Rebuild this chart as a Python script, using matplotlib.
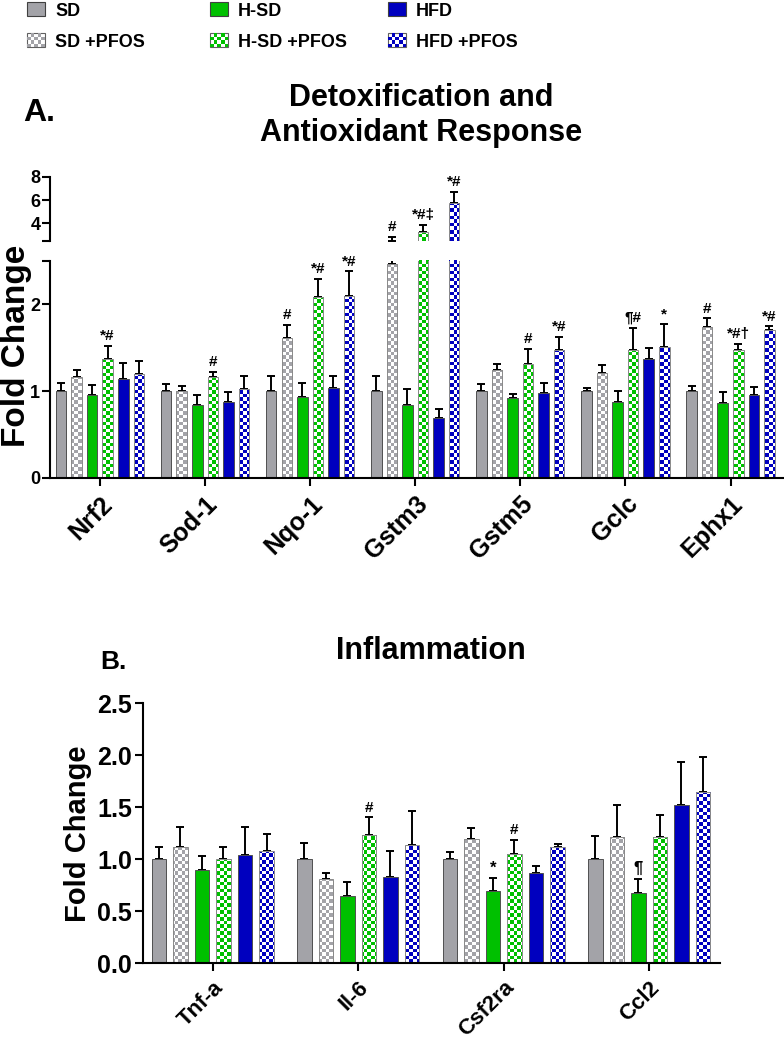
import numpy as np
import matplotlib
matplotlib.use('Agg')
import matplotlib.pyplot as plt
from matplotlib.patches import Rectangle, Patch
from matplotlib.legend_handler import HandlerBase
from matplotlib.colors import to_rgba

plt.rcParams['font.family'] = ['Liberation Sans', 'DejaVu Sans']
plt.rcParams['font.weight'] = 'bold'
plt.rcParams['axes.labelweight'] = 'bold'
plt.rcParams['axes.linewidth'] = 1.5

groups = ['SD', 'SD +PFOS', 'H-SD', 'H-SD +PFOS', 'HFD', 'HFD +PFOS']
colors = ['#A3A3A8', '#A3A3A8', '#00C000', '#00C000', '#0000BF', '#0000BF']
checkered = [False, True, False, True, False, True]

# A. Detoxification and antioxidant response
genes_a = ['Nrf2', 'Sod-1', 'Nqo-1', 'Gstm3', 'Gstm5', 'Gclc', 'Ephx1']
sd_a = [1.0, 1.0, 1.0, 1.0, 1.0, 1.0, 1.0]
sd_pfos_a = [1.165, 1.0, 1.61, 2.47, 1.246, 1.21, 1.742]
hsd_a = [0.96, 0.84, 0.935, 0.84, 0.923, 0.877, 0.858]
hsd_pfos_a = [1.37, 1.16, 2.08, 3.25, 1.315, 1.473, 1.473]
hfd_a = [1.14, 0.877, 1.035, 0.685, 0.973, 1.373, 0.96]
hfd_pfos_a = [1.2, 1.02, 2.10, 5.78, 1.473, 1.508, 1.704]

sd_a_err = [0.09, 0.08, 0.18, 0.18, 0.085, 0.04, 0.06]
sd_pfos_a_err = [0.075, 0.065, 0.15, 0.40, 0.07, 0.086, 0.096]
hsd_a_err = [0.115, 0.11, 0.155, 0.18, 0.042, 0.123, 0.134]
hsd_pfos_a_err = [0.15, 0.06, 0.21, 0.62, 0.175, 0.257, 0.067]
hfd_a_err = [0.18, 0.108, 0.135, 0.105, 0.117, 0.127, 0.086]
hfd_pfos_a_err = [0.15, 0.16, 0.28, 0.94, 0.154, 0.262, 0.042]

sig_sd_pfos_a = ['', '', '#', '#', '', '', '#']
sig_hsd_pfos_a = ['*#', '#', '*#', '*#\u2021', '#', '\u00b6#', '*#\u2020']
sig_hfd_pfos_a = ['', '', '*#', '*#', '*#', '*', '*#']

# B. Inflammation
genes_b = ['Tnf-a', 'Il-6', 'Csf2ra', 'Ccl2']
sd_b = [1.0, 1.0, 1.0, 1.0]
sd_pfos_b = [1.12, 0.81, 1.2, 1.215]
hsd_b = [0.90, 0.647, 0.70, 0.673]
hsd_pfos_b = [1.006, 1.237, 1.048, 1.215]
hfd_b = [1.04, 0.833, 0.865, 1.52]
hfd_pfos_b = [1.077, 1.135, 1.122, 1.65]

sd_b_err = [0.12, 0.16, 0.075, 0.22]
sd_pfos_b_err = [0.19, 0.06, 0.10, 0.305]
hsd_b_err = [0.13, 0.135, 0.117, 0.137]
hsd_pfos_b_err = [0.114, 0.166, 0.142, 0.215]
hfd_b_err = [0.27, 0.244, 0.068, 0.42]
hfd_pfos_b_err = [0.167, 0.333, 0.022, 0.33]

sig_hsd_b = ['', '', '*', '\u00b6']
sig_hsd_pfos_b = ['', '#', '#', '']

PITCH = 0.148
WIDTH = 0.1


def checker_image(ax, color, sq=3.5):
    fig = ax.figure
    bb = ax.get_position()
    w = bb.width * fig.get_figwidth() * fig.dpi
    h = bb.height * fig.get_figheight() * fig.dpi
    nx, ny = int(round(w / sq)), int(round(h / sq))
    grid = (np.add.outer(np.arange(ny), np.arange(nx)) % 2).astype(bool)
    rgba = np.ones((ny, nx, 4))
    rgba[grid] = to_rgba(color)
    return rgba


def draw_bars(ax, means, errs, ylow=0.0):
    n = len(means[0])
    x = np.arange(n)
    for j in range(6):
        pos = x + (j - 2.5) * PITCH
        if checkered[j]:
            bars = ax.bar(pos, means[j], WIDTH, color='white', linewidth=0, zorder=2)
            img = checker_image(ax, colors[j])
            for b in bars:
                im = ax.imshow(img, extent=(0, 1, 0, 1), transform=ax.transAxes,
                               interpolation='nearest', aspect='auto', zorder=2.1)
                im.set_clip_path(b)
            ax.bar(pos, means[j], WIDTH, fill=False, edgecolor='#8a8a8a', linewidth=0.7, zorder=2.2)
        else:
            ax.bar(pos, means[j], WIDTH, color=colors[j], edgecolor='#505050', linewidth=0.7, zorder=2)
        m = np.array(means[j])
        e = np.array(errs[j])
        keep = (m + e) > ylow
        ax.errorbar(pos[keep], m[keep], yerr=[np.zeros(keep.sum()), e[keep]], fmt='none',
                    ecolor='black', elinewidth=1.4, capsize=2.6, capthick=1.4, zorder=1.9)
    return x


def annotate(axes_for, means, errs, sigs, j, size):
    for i in range(len(means)):
        if not sigs[i]:
            continue
        top = means[i] + errs[i]
        ax = axes_for(top)
        ax.annotate(sigs[i], (i + (j - 2.5) * PITCH, top), xytext=(0, 2), textcoords='offset points',
                    ha='center', va='bottom', fontsize=size, fontweight='bold', zorder=5)


class CheckerHandler(HandlerBase):
    def __init__(self, color, nx=5, ny=4):
        super().__init__()
        self.color = color
        self.nx = nx
        self.ny = ny

    def create_artists(self, legend, orig_handle, xdescent, ydescent, width, height, fontsize, trans):
        x0, y0 = -xdescent, -ydescent
        dx, dy = width / self.nx, height / self.ny
        arts = [Rectangle((x0, y0), width, height, facecolor='white', edgecolor='#606060',
                          linewidth=0.8, transform=trans)]
        for i in range(self.nx):
            for k in range(self.ny):
                if (i + k) % 2 == 0:
                    arts.append(Rectangle((x0 + i * dx, y0 + k * dy), dx, dy, facecolor=self.color,
                                          edgecolor='none', transform=trans))
        return arts


fig = plt.figure(figsize=(7.84, 10.5), dpi=100)

means_a = [sd_a, sd_pfos_a, hsd_a, hsd_pfos_a, hfd_a, hfd_pfos_a]
errs_a = [sd_a_err, sd_pfos_a_err, hsd_a_err, hsd_pfos_a_err, hfd_a_err, hfd_pfos_a_err]

ax_lo = fig.add_axes([0.0638, 0.5448, 0.935, 0.2067])
ax_hi = fig.add_axes([0.0638, 0.7705, 0.935, 0.0613])

x_a = draw_bars(ax_lo, means_a, errs_a)
draw_bars(ax_hi, means_a, errs_a, ylow=2.5)

axes_for_a = lambda v: ax_hi if v > 2.5 else ax_lo
annotate(axes_for_a, sd_pfos_a, sd_pfos_a_err, sig_sd_pfos_a, 1, 11)
annotate(axes_for_a, hsd_pfos_a, hsd_pfos_a_err, sig_hsd_pfos_a, 3, 11)
annotate(axes_for_a, hfd_pfos_a, hfd_pfos_a_err, sig_hfd_pfos_a, 5, 11)

for ax in (ax_lo, ax_hi):
    ax.set_xlim(-0.475, 6.5)
    ax.spines['top'].set_visible(False)
    ax.spines['right'].set_visible(False)
    ax.tick_params(axis='y', length=5.5, width=1.5, labelsize=13, pad=1.5)

ax_lo.set_ylim(0, 2.5)
ax_lo.set_yticks([0, 1, 2, 2.5])
ax_lo.set_yticklabels(['0', '1', '2', ''])
ax_lo.set_xticks(x_a)
ax_lo.set_xticklabels(genes_a, rotation=45, ha='right', rotation_mode='anchor', fontsize=18)
ax_lo.tick_params(axis='x', length=6, width=1.5, pad=4)

ax_hi.set_ylim(2.5, 8)
ax_hi.set_yticks([2.5, 4, 6, 8])
ax_hi.set_yticklabels(['', '4', '6', '8'])
ax_hi.spines['bottom'].set_visible(False)
ax_hi.set_xticks([])

fig.text(0.021, 0.6705, 'Fold Change', rotation=90, ha='center', va='center', fontsize=24)
fig.text(0.537, 0.890, 'Detoxification and\nAntioxidant Response', ha='center', va='center',
         fontsize=22, linespacing=1.25)
fig.text(0.029, 0.892, 'A.', ha='left', va='center', fontsize=23)

# panel B
means_b = [sd_b, sd_pfos_b, hsd_b, hsd_pfos_b, hfd_b, hfd_pfos_b]
errs_b = [sd_b_err, sd_pfos_b_err, hsd_b_err, hsd_pfos_b_err, hfd_b_err, hfd_pfos_b_err]

ax_b = fig.add_axes([0.1828, 0.0825, 0.7356, 0.2477])
x_b = draw_bars(ax_b, means_b, errs_b)
annotate(lambda v: ax_b, hsd_b, hsd_b_err, sig_hsd_b, 2, 12)
annotate(lambda v: ax_b, hsd_pfos_b, hsd_pfos_b_err, sig_hsd_pfos_b, 3, 11)

ax_b.set_xlim(-0.477, 3.487)
ax_b.set_ylim(0, 2.5)
ax_b.set_yticks(np.arange(0, 2.51, 0.5))
ax_b.set_yticklabels(['%.1f' % v for v in np.arange(0, 2.51, 0.5)])
ax_b.set_xticks(x_b)
ax_b.set_xticklabels(genes_b, rotation=45, ha='right', rotation_mode='anchor', fontsize=16)
ax_b.spines['top'].set_visible(False)
ax_b.spines['right'].set_visible(False)
ax_b.tick_params(axis='y', length=6, width=1.5, labelsize=18, pad=2)
ax_b.tick_params(axis='x', length=6, width=1.5, pad=4)
ax_b.set_ylabel('Fold Change', fontsize=21, labelpad=4)

fig.text(0.55, 0.380, 'Inflammation', ha='center', va='center', fontsize=22)
fig.text(0.128, 0.3695, 'B.', ha='left', va='center', fontsize=19)

# legend, three columns
legend_x = [0.0344, 0.268, 0.495]
for c in range(3):
    solid = Patch(facecolor=colors[2 * c], edgecolor='#404040', linewidth=0.8)
    chk = Patch(facecolor='white')
    fig.legend([solid, chk], [groups[2 * c], groups[2 * c + 1]],
               handler_map={chk: CheckerHandler(colors[2 * c])},
               loc='upper left', bbox_to_anchor=(legend_x[c], 0.998), frameon=False,
               fontsize=13, handlelength=1.0, handleheight=0.85, handletextpad=0.55,
               labelspacing=0.75, borderpad=0, borderaxespad=0)

fig.savefig('out.png', dpi=100)
